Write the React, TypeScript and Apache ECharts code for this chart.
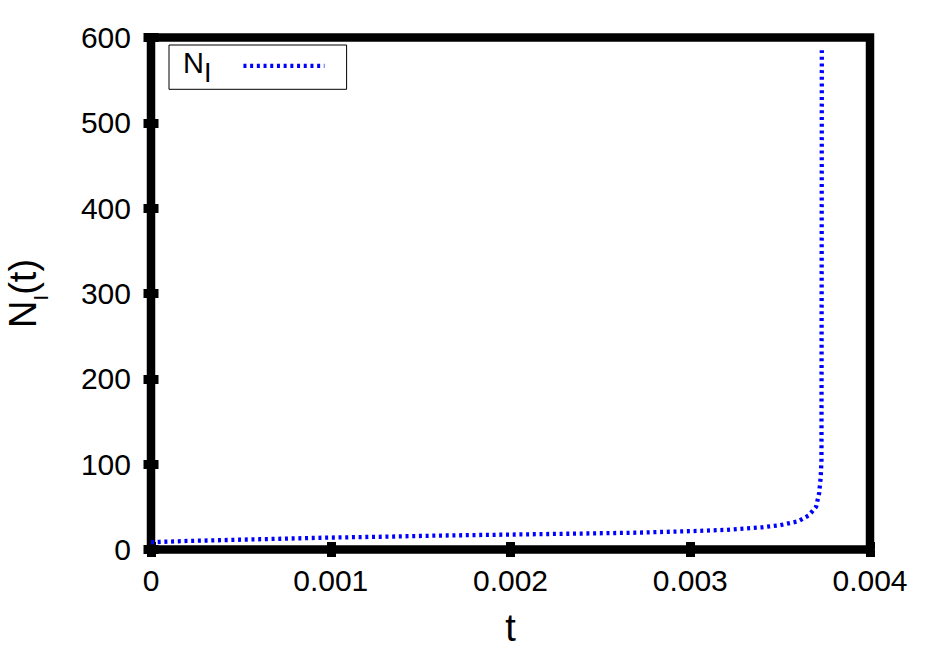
import React, { useEffect, useRef } from "react";
import * as echarts from "echarts";

const tValues = [0, 0.0002, 0.0004, 0.0006, 0.0008, 0.001, 0.0013, 0.0016, 0.002, 0.0024, 0.0027, 0.003, 0.0032, 0.0034, 0.0035, 0.0036, 0.00366, 0.0037, 0.003717, 0.003726, 0.00373, 0.003731, 0.003732];
const nValues = [8.5, 10, 11, 12, 13, 14, 15, 16.3, 17.5, 18.7, 19.7, 21.5, 23, 26, 28.5, 33, 40, 50, 66, 85, 105, 300, 585];
const xTicks = { min: 0, max: 0.004, interval: 0.001 };
const yTicks = { min: 0, max: 600, interval: 100 };
const seriesName = "N_I";

const FONT = "'Liberation Sans', Arial, Helvetica, sans-serif";

export default function App() {
  const ref = useRef<HTMLDivElement>(null);
  useEffect(() => {
    if (!ref.current) return;
    const chart = echarts.init(ref.current, undefined, { renderer: "svg" });
    const data = tValues.map((t, i) => [t, nValues[i]]);
    const tick = { show: true, inside: true, length: 7.5, lineStyle: { color: "#000", width: 9 } };
    const option: any = {
      animation: false,
      backgroundColor: "#fff",
      textStyle: { fontFamily: FONT },
      grid: {
        left: 151,
        right: 56,
        top: 37.5,
        bottom: 99.5,
        show: true,
        borderColor: "#000",
        borderWidth: 8.5,
        backgroundColor: "transparent",
        containLabel: false,
        outerBoundsMode: "none",
      },
      legend: {
        data: [seriesName],
        left: 169,
        top: 45,
        orient: "horizontal",
        align: "right",
        itemWidth: 81,
        itemHeight: 14,
        padding: [3, 20, 3, 14],
        borderColor: "#000",
        borderWidth: 1,
        borderRadius: 0,
        backgroundColor: "#fff",
        selectedMode: false,
        itemStyle: { color: "rgba(0,0,0,0)", borderWidth: 0, opacity: 0 },
        lineStyle: { color: "#0000ff", width: 4.3, type: [3, 3.7], cap: "butt" },
        formatter: () => "{n|N}{s|I}",
        textStyle: {
          fontFamily: FONT,
          color: "#000",
          padding: [0, 27, 0, 0],
          rich: {
            n: { fontSize: 29, fontFamily: FONT, color: "#000", verticalAlign: "top", padding: [2.7, 0, 0, 0] },
            s: { fontSize: 27, fontFamily: FONT, color: "#000", verticalAlign: "top", padding: [14, 0, 0, 0] },
          },
        },
      },
      xAxis: [
        {
          type: "value",
          position: "bottom",
          min: xTicks.min,
          max: xTicks.max,
          interval: xTicks.interval,
          axisLine: { show: false },
          axisTick: tick,
          splitLine: { show: false },
          axisLabel: {
            fontSize: 30,
            fontFamily: FONT,
            color: "#000",
            margin: 15.5,
            formatter: (v: number) => (v === 0 ? "0" : v.toFixed(3)),
          },
          name: "t",
          nameLocation: "middle",
          nameGap: 59,
          nameTextStyle: { fontSize: 38, fontFamily: FONT, color: "#000", lineHeight: 38 },
        },
        {
          type: "value",
          position: "top",
          min: xTicks.min,
          max: xTicks.max,
          interval: xTicks.interval,
          axisLine: { show: false },
          axisTick: tick,
          splitLine: { show: false },
          axisLabel: { show: false },
        },
      ],
      yAxis: [
        {
          type: "value",
          position: "left",
          min: yTicks.min,
          max: yTicks.max,
          interval: yTicks.interval,
          axisLine: { show: false },
          axisTick: tick,
          splitLine: { show: false },
          axisLabel: { fontSize: 30, fontFamily: FONT, color: "#000", margin: 20 },
          name: "{n|N}{s|I}{n|(t)}",
          nameLocation: "middle",
          nameRotate: 90,
          nameGap: 99.7,
          nameTextStyle: {
            fontFamily: FONT,
            color: "#000",
            rich: {
              n: { fontSize: 38, fontFamily: FONT, color: "#000", verticalAlign: "top" },
              s: { fontSize: 21, fontFamily: FONT, color: "#000", verticalAlign: "top", padding: [26.8, 0, 0, 0] },
            },
          },
        },
        {
          type: "value",
          position: "right",
          min: yTicks.min,
          max: yTicks.max,
          interval: yTicks.interval,
          axisLine: { show: false },
          axisTick: tick,
          splitLine: { show: false },
          axisLabel: { show: false },
        },
      ],
      series: [
        {
          name: seriesName,
          type: "line",
          data,
          xAxisIndex: 0,
          yAxisIndex: 0,
          symbol: "none",
          showSymbol: false,
          smooth: false,
          lineStyle: { color: "#0000ff", width: 4.3, type: [3, 3.7], cap: "butt" },
          itemStyle: { color: "#0000ff" },
          z: 1,
        },
      ],
    };
    chart.setOption(option);
    return () => chart.dispose();
  }, []);
  return (
    <div
      ref={ref}
      style={{ position: "fixed", left: 0, top: 0, width: 926, height: 649, background: "#fff" }}
    />
  );
}
